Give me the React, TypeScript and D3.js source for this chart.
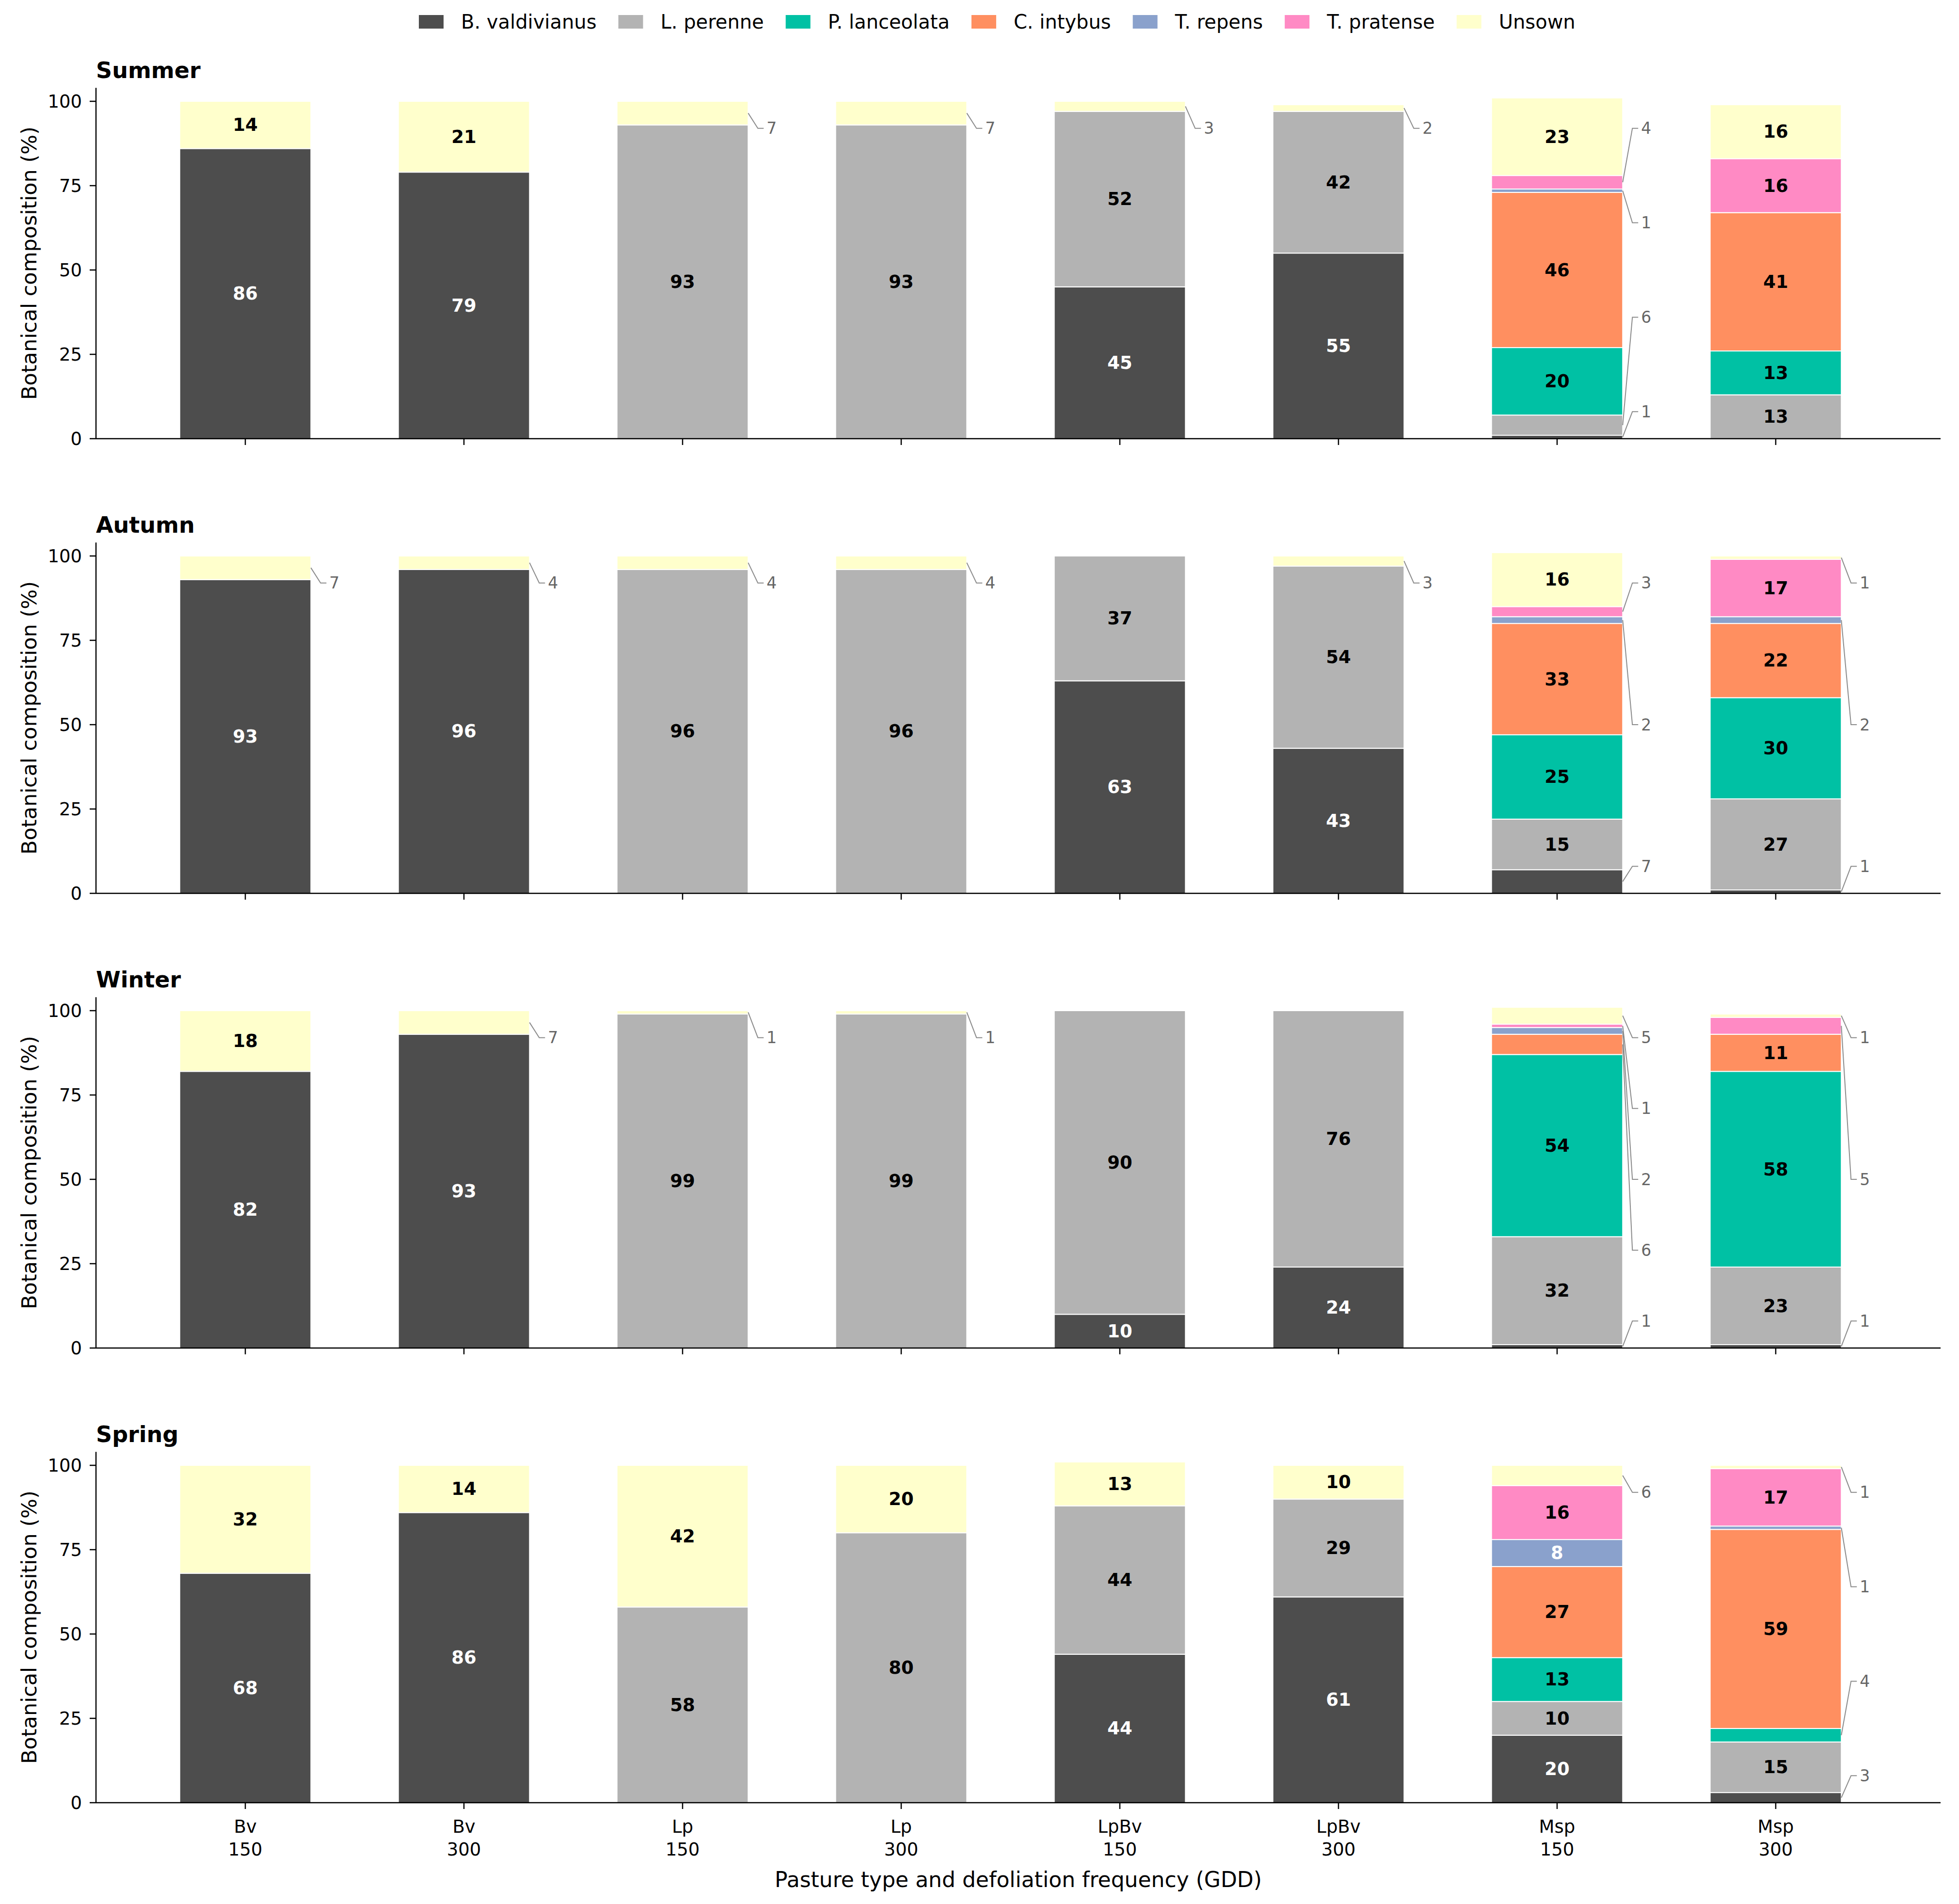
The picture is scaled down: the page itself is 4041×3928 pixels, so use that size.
import React from 'react';
import * as d3 from 'd3';

// Pasture type / defoliation frequency (two-line tick labels)
const pastures = ['Bv', 'Bv', 'Lp', 'Lp', 'LpBv', 'LpBv', 'Msp', 'Msp'];
const gdd = ['150', '300', '150', '300', '150', '300', '150', '300'];

const species = ['B. valdivianus', 'L. perenne', 'P. lanceolata', 'C. intybus', 'T. repens', 'T. pratense', 'Unsown'];
const colors = ['#4d4d4d', '#b3b3b3', '#00c1a4', '#ff8f60', '#8aa1cc', '#ff8ac4', '#ffffcc'];
const lightText = [true, false, false, false, true, false, false];

const seasons = ['Summer', 'Autumn', 'Winter', 'Spring'];

// rows follow species order: Bv, Lp, Pl, Ci, Tr, Tp, Unsown
const summer = [
  [86, 79, 0, 0, 45, 55, 1, 0],
  [0, 0, 93, 93, 52, 42, 6, 13],
  [0, 0, 0, 0, 0, 0, 20, 13],
  [0, 0, 0, 0, 0, 0, 46, 41],
  [0, 0, 0, 0, 0, 0, 1, 0],
  [0, 0, 0, 0, 0, 0, 4, 16],
  [14, 21, 7, 7, 3, 2, 23, 16],
];
const autumn = [
  [93, 96, 0, 0, 63, 43, 7, 1],
  [0, 0, 96, 96, 37, 54, 15, 27],
  [0, 0, 0, 0, 0, 0, 25, 30],
  [0, 0, 0, 0, 0, 0, 33, 22],
  [0, 0, 0, 0, 0, 0, 2, 2],
  [0, 0, 0, 0, 0, 0, 3, 17],
  [7, 4, 4, 4, 0, 3, 16, 1],
];
const winter = [
  [82, 93, 0, 0, 10, 24, 1, 1],
  [0, 0, 99, 99, 90, 76, 32, 23],
  [0, 0, 0, 0, 0, 0, 54, 58],
  [0, 0, 0, 0, 0, 0, 6, 11],
  [0, 0, 0, 0, 0, 0, 2, 0],
  [0, 0, 0, 0, 0, 0, 1, 5],
  [18, 7, 1, 1, 0, 0, 5, 1],
];
const spring = [
  [68, 86, 0, 0, 44, 61, 20, 3],
  [0, 0, 58, 80, 44, 29, 10, 15],
  [0, 0, 0, 0, 0, 0, 13, 4],
  [0, 0, 0, 0, 0, 0, 27, 59],
  [0, 0, 0, 0, 0, 0, 8, 1],
  [0, 0, 0, 0, 0, 0, 16, 17],
  [32, 14, 42, 20, 13, 10, 6, 1],
];
const seasonData = [summer, autumn, winter, spring];

const yTicks = [0, 25, 50, 75, 100];

const W = 4041;
const H = 3928;
const FONT = 'DejaVu Sans, sans-serif';
const PANEL_STEP = 938;
const Y0 = 905; // zero line of first panel
const PX_PER_UNIT = 6.96;
const Y_MAX = 104;
const SMALL = 8; // values below this are labelled outside with a leader

const x = d3.scaleLinear().domain([-0.683, 7.754]).range([198, 4003]);
const step = x(1) - x(0);
const barW = 0.6 * step;

function measure(text: string, font: string) {
  const c = document.createElement('canvas').getContext('2d');
  if (!c) return text.length * 20;
  c.font = font;
  return c.measureText(text).width;
}

function Panel({ k }: { k: number }) {
  const data = seasonData[k];
  const zero = Y0 + k * PANEL_STEP;
  const y = d3.scaleLinear().domain([0, Y_MAX]).range([zero, zero - Y_MAX * PX_PER_UNIT]);
  const rows = pastures.map((_, i) => {
    const r: Record<string, number> = {};
    species.forEach((s, j) => (r[s] = data[j][i]));
    return r;
  });
  const stacked = d3.stack<Record<string, number>>().keys(species)(rows);
  const isLast = k === seasons.length - 1;

  return (
    <g>
      <text x={x.range()[0]} y={zero - 744} fontFamily={FONT} fontWeight="bold" fontSize={46}>
        {seasons[k]}
      </text>
      {/* bars */}
      {stacked.map((layer, j) => (
        <g key={layer.key}>
          {layer.map((seg, i) => {
            const v = seg[1] - seg[0];
            if (v <= 0) return null;
            return (
              <rect
                key={i}
                x={x(i) - barW / 2}
                width={barW}
                y={y(seg[1])}
                height={y(seg[0]) - y(seg[1])}
                fill={colors[j]}
                stroke="#ffffff"
                strokeWidth={2}
              />
            );
          })}
        </g>
      ))}
      {/* inside labels */}
      {stacked.map((layer, j) =>
        layer.map((seg, i) => {
          const v = seg[1] - seg[0];
          if (v < SMALL) return null;
          return (
            <text
              key={`${j}-${i}`}
              x={x(i)}
              y={y((seg[0] + seg[1]) / 2)}
              textAnchor="middle"
              dominantBaseline="central"
              fontFamily={FONT}
              fontWeight="bold"
              fontSize={37}
              fill={lightText[j] ? '#ffffff' : '#000000'}
            >
              {v}
            </text>
          );
        })
      )}
      {/* outside labels with leaders */}
      {pastures.map((_, i) => {
        const small: { v: number; mid: number }[] = [];
        for (let j = species.length - 1; j >= 0; j--) {
          const seg = stacked[j][i];
          const v = seg[1] - seg[0];
          if (v > 0 && v < SMALL) small.push({ v, mid: (seg[0] + seg[1]) / 2 });
        }
        const n = small.length;
        const xr = x(i) + barW / 2;
        return small.map((s, m) => {
          const ly = y(n === 1 ? 92 : 92 - (84 * m) / (n - 1));
          return (
            <g key={`${i}-${m}`}>
              <path
                d={`M${xr},${y(s.mid)}L${xr + 20},${ly}L${xr + 32},${ly}`}
                fill="none"
                stroke="#8c8c8c"
                strokeWidth={2}
              />
              <text
                x={xr + 38}
                y={ly}
                dominantBaseline="central"
                fontFamily={FONT}
                fontSize={33}
                fill="#666666"
              >
                {s.v}
              </text>
            </g>
          );
        });
      })}
      {/* y axis */}
      <line x1={x.range()[0]} x2={x.range()[0]} y1={y(0)} y2={y(Y_MAX)} stroke="#000" strokeWidth={2.5} />
      {yTicks.map((t) => (
        <g key={t}>
          <line x1={x.range()[0] - 13} x2={x.range()[0]} y1={y(t)} y2={y(t)} stroke="#000" strokeWidth={2.5} />
          <text
            x={x.range()[0] - 29}
            y={y(t)}
            textAnchor="end"
            dominantBaseline="central"
            fontFamily={FONT}
            fontSize={37}
          >
            {t}
          </text>
        </g>
      ))}
      <text
        transform={`translate(60,${(y(0) + y(Y_MAX)) / 2}) rotate(-90)`}
        textAnchor="middle"
        dominantBaseline="central"
        fontFamily={FONT}
        fontSize={43}
      >
        Botanical composition (%)
      </text>
      {/* x axis */}
      <line x1={x.range()[0]} x2={x.range()[1]} y1={y(0)} y2={y(0)} stroke="#000" strokeWidth={2.5} />
      {pastures.map((p, i) => (
        <g key={i}>
          <line x1={x(i)} x2={x(i)} y1={y(0)} y2={y(0) + 13} stroke="#000" strokeWidth={2.5} />
          {isLast && (
            <text x={x(i)} textAnchor="middle" fontFamily={FONT} fontSize={37}>
              <tspan x={x(i)} y={y(0) + 49} dominantBaseline="central">{p}</tspan>
              <tspan x={x(i)} y={y(0) + 96} dominantBaseline="central">{gdd[i]}</tspan>
            </text>
          )}
        </g>
      ))}
    </g>
  );
}

function Legend() {
  const fs = 40;
  const font = `${fs}px ${FONT}`;
  let cx = 864;
  const items = species.map((s, j) => {
    const start = cx;
    cx += 87 + measure(s, font) + 45;
    return { s, j, start };
  });
  return (
    <g>
      {items.map((it) => (
        <g key={it.s}>
          <rect x={it.start} y={45 - 14} width={51} height={28} fill={colors[it.j]} />
          <text x={it.start + 87} y={45} dominantBaseline="central" fontFamily={FONT} fontSize={fs}>
            {it.s}
          </text>
        </g>
      ))}
    </g>
  );
}

export default function App() {
  return (
    <div style={{ position: 'absolute', left: 0, top: 0, background: '#fff' }}>
      <svg width={W} height={H} style={{ display: 'block' }}>
        <rect width={W} height={H} fill="#ffffff" />
        <Legend />
        {seasons.map((s, k) => (
          <Panel key={s} k={k} />
        ))}
        <text
          x={(x.range()[0] + x.range()[1]) / 2}
          y={3877}
          textAnchor="middle"
          dominantBaseline="central"
          fontFamily={FONT}
          fontSize={44}
        >
          Pasture type and defoliation frequency (GDD)
        </text>
      </svg>
    </div>
  );
}
